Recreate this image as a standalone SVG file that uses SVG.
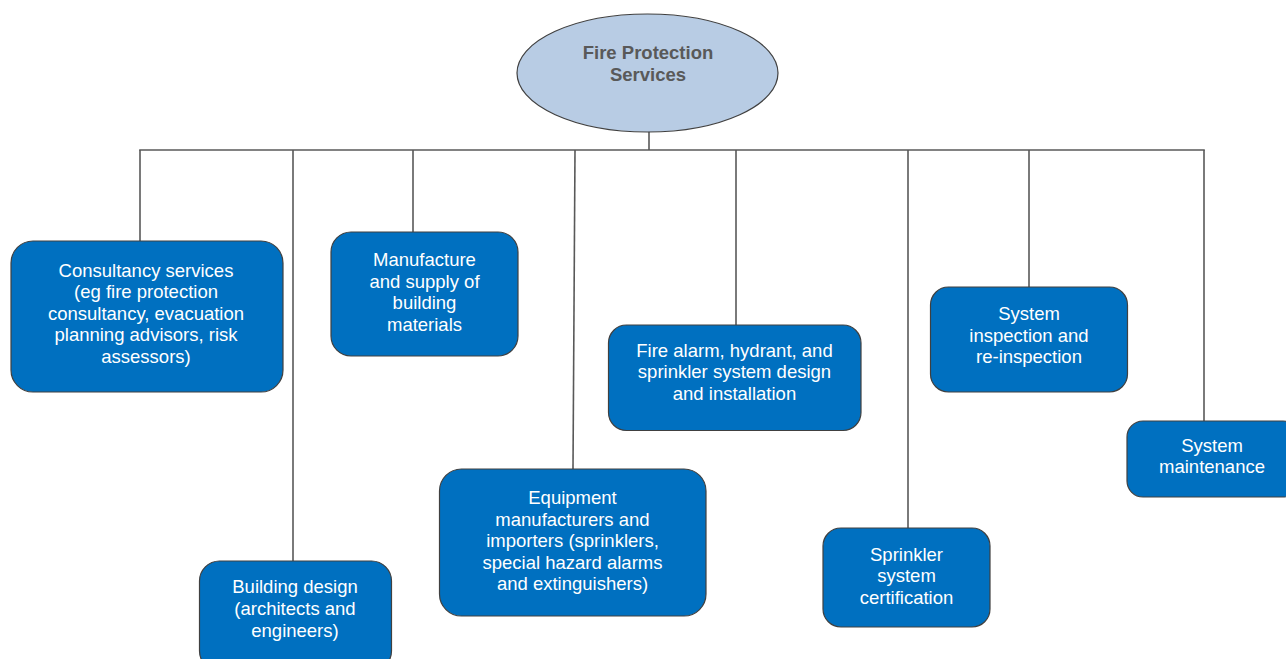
<svg xmlns="http://www.w3.org/2000/svg" width="1286" height="659" viewBox="0 0 1286 659">
<style>
.box{fill:#0070C0;stroke:#404040;stroke-width:1.2}
.t{font-family:"Liberation Sans",Arial,sans-serif;font-size:18.5px;fill:#ffffff;text-anchor:middle}
.title{font-family:"Liberation Sans",Arial,sans-serif;font-size:18.5px;font-weight:bold;fill:#595959;text-anchor:middle}
.ln{stroke:#595959;stroke-width:1.6;fill:none}
</style>
<rect width="1286" height="659" fill="#ffffff"/>
<g id="connectors">
<line class="ln" x1="649" y1="131" x2="649" y2="150"/>
<line class="ln" x1="139.2" y1="150" x2="1204.8" y2="150"/>
<line class="ln" x1="140" y1="150" x2="140" y2="241"/>
<line class="ln" x1="293" y1="150" x2="293" y2="561"/>
<line class="ln" x1="413" y1="150" x2="413" y2="232"/>
<line class="ln" x1="575" y1="150" x2="573" y2="469"/>
<line class="ln" x1="736" y1="150" x2="736" y2="325"/>
<line class="ln" x1="908" y1="150" x2="908" y2="528"/>
<line class="ln" x1="1029" y1="150" x2="1029" y2="287"/>
<line class="ln" x1="1204" y1="150" x2="1204" y2="421"/>
</g>
<g id="root">
<ellipse cx="647.5" cy="73" rx="130.5" ry="59" fill="#B8CCE4" stroke="#404040" stroke-width="1.2"/>
<text class="title" x="648" y="59.3">Fire Protection</text>
<text class="title" x="648" y="80.7">Services</text>
</g>
<g id="consultancy">
<rect class="box" x="11" y="241" width="272" height="151" rx="22"/>
<text class="t" x="146" y="276.5">Consultancy services</text>
<text class="t" x="146" y="298">(eg fire protection</text>
<text class="t" x="146" y="319.5">consultancy, evacuation</text>
<text class="t" x="146" y="341">planning advisors, risk</text>
<text class="t" x="146" y="362.5">assessors)</text>
</g>
<g id="building-design">
<rect class="box" x="199.5" y="561" width="192" height="110" rx="20"/>
<text class="t" x="295" y="593.3">Building design</text>
<text class="t" x="295" y="615">(architects and</text>
<text class="t" x="295" y="636.5">engineers)</text>
</g>
<g id="manufacture">
<rect class="box" x="331" y="232" width="187" height="124" rx="20"/>
<text class="t" x="424.5" y="266">Manufacture</text>
<text class="t" x="424.5" y="287.5">and supply of</text>
<text class="t" x="424.5" y="309">building</text>
<text class="t" x="424.5" y="330.5">materials</text>
</g>
<g id="equipment">
<rect class="box" x="439.5" y="469" width="266.5" height="147" rx="22"/>
<text class="t" x="572.5" y="504">Equipment</text>
<text class="t" x="572.5" y="525.5">manufacturers and</text>
<text class="t" x="572.5" y="547">importers (sprinklers,</text>
<text class="t" x="572.5" y="568.5">special hazard alarms</text>
<text class="t" x="572.5" y="590">and extinguishers)</text>
</g>
<g id="fire-alarm">
<rect class="box" x="608.5" y="325" width="252.5" height="105.5" rx="18"/>
<text class="t" x="734.5" y="356.7">Fire alarm, hydrant, and</text>
<text class="t" x="734.5" y="378">sprinkler system design</text>
<text class="t" x="734.5" y="399.5">and installation</text>
</g>
<g id="sprinkler-cert">
<rect class="box" x="823" y="528" width="167" height="99" rx="18"/>
<text class="t" x="906.5" y="560.7">Sprinkler</text>
<text class="t" x="906.5" y="582">system</text>
<text class="t" x="906.5" y="603.5">certification</text>
</g>
<g id="system-inspection">
<rect class="box" x="930.5" y="287" width="197" height="105" rx="18"/>
<text class="t" x="1029" y="320">System</text>
<text class="t" x="1029" y="341.5">inspection and</text>
<text class="t" x="1029" y="363">re-inspection</text>
</g>
<g id="system-maintenance">
<rect class="box" x="1127" y="421" width="172" height="76" rx="16"/>
<text class="t" x="1212" y="451.7">System</text>
<text class="t" x="1212" y="473">maintenance</text>
</g>
</svg>
